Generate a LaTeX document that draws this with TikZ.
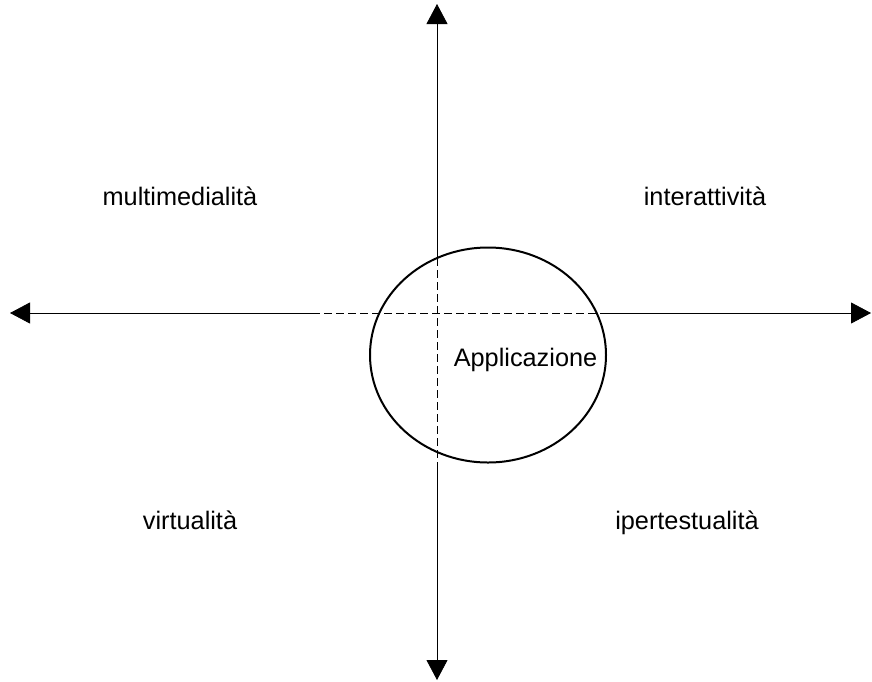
\documentclass[tikz,border=0pt]{standalone}
\usepackage{fontspec}
\setmainfont{Liberation Sans}
\usetikzlibrary{arrows.meta,shapes.geometric}
\tikzset{
  axisline/.style={line width=0.8pt, black},
  axistip/.style={-{Triangle[length=20pt,width=21pt]}},
  dashpart/.style={line width=0.8pt, dash pattern=on 8pt off 4pt},
  label/.style={font=\fontsize{25.3}{29}\selectfont, anchor=base, inner sep=0pt},
  appellipse/.style={ellipse, draw, line width=2pt, minimum width=236pt, minimum height=215pt, inner sep=0pt}
}
\begin{document}
\begin{tikzpicture}[x=1pt,y=-1pt]
  \useasboundingbox (0,0) rectangle (872,681);

  % application ellipse
  \node[appellipse] (app) at (488,355) {};

  % axis end points and the points where the axes meet the ellipse
  \coordinate (top) at (437,4);
  \coordinate (bottom) at (437,680);
  \coordinate (left) at (10,313);
  \coordinate (right) at (871,313);
  \coordinate (vin) at (437,258);
  \coordinate (vout) at (437,462);
  \coordinate (hin) at (312,313);
  \coordinate (hout) at (600,313);

  % vertical axis
  \draw[axisline,axistip] (vin) -- (top);
  \draw[dashpart] (vin) -- (vout);
  \draw[axisline,axistip] (vout) -- (bottom);

  % horizontal axis
  \draw[axisline,axistip] (hin) -- (left);
  \draw[dashpart] (hin) -- (hout);
  \draw[axisline,axistip] (hout) -- (right);

  % quadrant labels
  \node[label] (multi) at (180,205) {multimedialità};
  \node[label] (inter) at (705,205) {interattività};
  \node[label] (virt) at (190,529) {virtualità};
  \node[label] (iper) at (687,529) {ipertestualità};
  \node[label] (appl) at (525.5,366) {Applicazione};
\end{tikzpicture}
\end{document}
